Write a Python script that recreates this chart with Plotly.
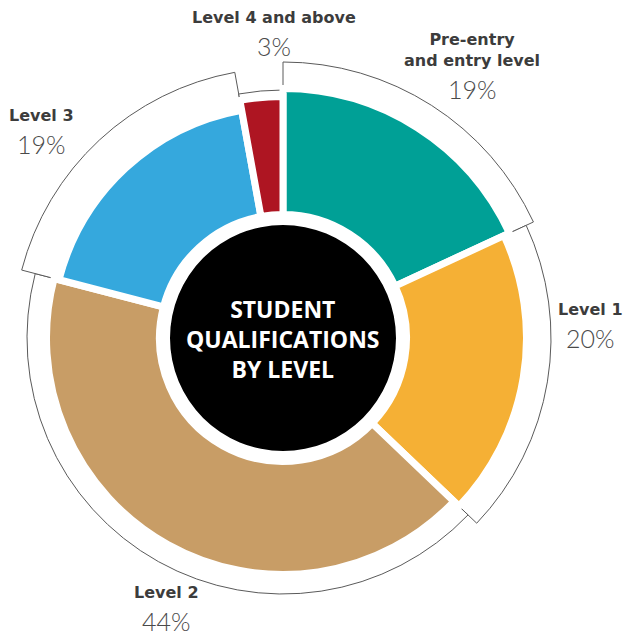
import numpy as np
import plotly.graph_objects as go

# --- data -------------------------------------------------------------
levels = ["Pre-entry and entry level", "Level 1", "Level 2", "Level 3", "Level 4 and above"]
label_text = ["Pre-entry<br>and entry level", "Level 1", "Level 2", "Level 3", "Level 4 and above"]
percent = [19, 20, 44, 19, 3]

# --- styling ----------------------------------------------------------
colors = ["#00A096", "#F5B035", "#C89D66", "#35A8DD", "#AE1522"]
band_outer = [246, 240, 233, 228, 238]     # outer edge of each coloured band (px)
frame_outer = [276, 268, 256, 270, 248]     # outer edge of each white outlined frame (px)
band_inner = 127                             # inner edge of the coloured ring (px)
disc_radius = 113                            # black centre disc (px)
gap = 7                                      # white gap between bands (px)

W, H = 625, 636
CX, CY = 283, 338      # wheel centre (px)
P = 280                # polar radius (px); radial axis runs 0..P so 1 unit == 1 px

# angular layout: clockwise from 12 o'clock, shares of the total
vals = np.array(percent, dtype=float)
span = vals / vals.sum() * 360.0
mid = np.cumsum(span) - span / 2.0

fig = go.Figure()

# white outlined frames behind the bands
frame_base = 150
fig.add_trace(go.Barpolar(
    theta=mid, width=span,
    base=[frame_base] * len(levels),
    r=[f - frame_base for f in frame_outer],
    marker=dict(color="white", line=dict(color="#5a5a5a", width=1)),
    hoverinfo="skip", showlegend=False,
))

# coloured bands; the white outline opens the gaps between them
half = gap / 2.0
fig.add_trace(go.Barpolar(
    theta=mid, width=span,
    base=[band_inner - half] * len(levels),
    r=[o + half - (band_inner - half) for o in band_outer],
    marker=dict(color=colors, line=dict(color="white", width=gap)),
    customdata=percent, text=levels,
    hovertemplate="%{text}: %{customdata}%<extra></extra>",
    showlegend=False,
))

# black centre disc
fig.add_trace(go.Barpolar(
    theta=[0], width=[360], base=[0], r=[disc_radius],
    marker=dict(color="black", line=dict(width=0)),
    hoverinfo="skip", showlegend=False,
))

fig.update_layout(
    width=W, height=H,
    margin=dict(l=0, r=0, t=0, b=0),
    paper_bgcolor="white",
    polar=dict(
        domain=dict(x=[(CX - P) / W, (CX + P) / W], y=[1 - (CY + P) / H, 1 - (CY - P) / H]),
        bgcolor="rgba(0,0,0,0)",
        radialaxis=dict(range=[0, P], visible=False),
        angularaxis=dict(rotation=90, direction="clockwise", visible=False),
        barmode="overlay",
    ),
)

# centre title
fig.add_annotation(
    x=CX / W, y=1 - (CY + 1) / H, xref="paper", yref="paper",
    text="STUDENT<br>QUALIFICATIONS<br>BY LEVEL", showarrow=False,
    font=dict(family="Open Sans", size=23, color="white", weight=700),
    align="center", xanchor="center", yanchor="middle",
)

# outside labels: bold name above, light percentage below, split at y (px)
label_x = [472, 590, 166, 41, 274]
label_split = [72, 321, 604, 127, 29]
for name, pc, lx, ly in zip(label_text, percent, label_x, label_split):
    fig.add_annotation(
        x=lx / W, y=1 - (ly - 1) / H, xref="paper", yref="paper", text=name,
        showarrow=False, xanchor="center", yanchor="bottom", align="center",
        borderpad=0,
        font=dict(family="DejaVu Sans", size=16, color="#3c3c3c", weight=700),
    )
    fig.add_annotation(
        x=lx / W, y=1 - (ly + 1) / H, xref="paper", yref="paper", text=f"{pc}%",
        showarrow=False, xanchor="center", yanchor="top", borderpad=0,
        font=dict(family="Lato", size=25, color="#4a4a4a", weight=300),
    )

fig.write_html("out.html")
